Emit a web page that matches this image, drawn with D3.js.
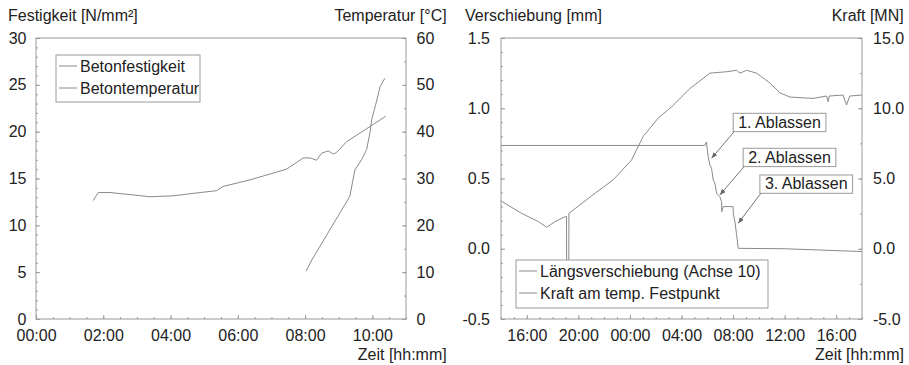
<!DOCTYPE html>
<html>
<head>
<meta charset="utf-8">
<script src="https://cdn.jsdelivr.net/npm/d3@7"></script>
<style>
  body { margin: 0; background: #fff; }
  svg { display: block; font-family: "Liberation Sans", Arial, sans-serif; }
</style>
</head>
<body>
<div id="chart"></div>
<script>
// Linkes Diagramm: Festigkeit / Temperatur (Zeit in Stunden)
const tempTime  = [1.70, 1.85, 2.20, 2.89, 3.39, 4.08, 4.88, 5.37, 5.56, 6.36, 7.45, 7.95, 8.15, 8.34, 8.49, 8.69, 8.84, 8.94, 9.24, 9.63, 10.23, 10.40];
const tempValue = [25.3, 27.0, 27.0, 26.5, 26.1, 26.3, 27.0, 27.4, 28.3, 29.7, 32.0, 34.4, 34.4, 33.9, 35.4, 35.9, 35.2, 35.6, 37.9, 39.7, 42.5, 43.3];
const strengthTime  = [8.03, 8.20, 9.33, 9.48, 9.68, 9.83, 9.93, 9.98, 10.10, 10.23, 10.37];
const strengthValue = [5.1, 6.3, 13.1, 15.9, 17.0, 18.1, 19.9, 21.3, 22.9, 24.8, 25.7];
const leftLegend = ['Betonfestigkeit', 'Betontemperatur'];
const leftTimeTicks = [0, 2, 4, 6, 8, 10];
const strengthTicks = [0, 5, 10, 15, 20, 25, 30];
const tempTicks = [0, 10, 20, 30, 40, 50, 60];

// Rechtes Diagramm: Verschiebung / Kraft (Stunden ab Tag 1, 00:00)
const shiftTime  = [14.0, 15.6, 16.9, 17.54, 18.19, 18.96, 19.08, 19.10, 19.25, 19.27, 21.29, 22.7, 24.13, 25.03, 26.19, 27.23, 28.65, 30.2, 31.5, 32.27, 32.53, 33.05, 33.82, 34.85, 35.63, 36.4, 38.2, 39.25, 39.37, 39.46, 40.53, 40.8, 41.05, 42.0];
const shiftValue = [0.34, 0.252, 0.193, 0.153, 0.193, 0.228, 0.228, -0.35, -0.35, 0.252, 0.395, 0.49, 0.632, 0.80, 0.93, 1.01, 1.14, 1.25, 1.26, 1.27, 1.25, 1.27, 1.25, 1.18, 1.11, 1.08, 1.07, 1.087, 1.047, 1.087, 1.094, 1.023, 1.087, 1.094];
const forceTime  = [14.0, 29.81, 29.93, 30.07, 30.20, 30.33, 30.46, 30.59, 30.72, 30.98, 31.11, 31.12, 31.23, 32.0, 32.02, 32.14, 32.26, 32.4, 36.0, 42.0];
const forceValue = [7.35, 7.35, 7.6, 6.55, 5.96, 5.73, 4.89, 4.66, 3.95, 3.7, 3.35, 2.64, 3.0, 3.0, 2.5, 1.93, 1.1, 0.03, 0.0, -0.2];
const rightLegend = ['Längsverschiebung (Achse 10)', 'Kraft am temp. Festpunkt'];
const rightTimeTicks = [16, 20, 24, 28, 32, 36, 40];
const shiftTicks = [-0.5, 0, 0.5, 1.0, 1.5];
const forceTicks = [-5, 0, 5, 10, 15];

// Anmerkungen (Pfeilspitze und Kastenecke in Datenwerten: Zeit / mm)
const annoLabels = ['1. Ablassen', '2. Ablassen', '3. Ablassen'];
const annoTipTime = [30.33, 30.98, 32.4];
const annoTipValue = [0.644, 0.383, 0.181];
const annoBoxTime = [32.01, 32.78, 34.08];
const annoBoxValue = [0.964, 0.715, 0.525];

const lineColor = '#8a8a8a';
const frameColor = '#9a9a9a';
const textColor = '#222';

const svg = d3.select('#chart').append('svg')
    .attr('width', 909)
    .attr('height', 365);

svg.append('defs').append('marker')
    .attr('id', 'arrow')
    .attr('viewBox', '0 0 10 10')
    .attr('refX', 10)
    .attr('refY', 5)
    .attr('markerWidth', 6)
    .attr('markerHeight', 6)
    .attr('orient', 'auto')
    .append('path')
    .attr('d', 'M0,1L10,5L0,9Z')
    .attr('fill', '#666');

const hhmm = h => String(h % 24).padStart(2, '0') + ':00';

function drawAxis(axis, transform) {
    const g = svg.append('g')
        .attr('transform', transform)
        .call(axis)
        .attr('font-family', null)
        .attr('font-size', 16);
    g.select('.domain').remove();
    g.selectAll('line').attr('stroke', frameColor);
    g.selectAll('text').attr('fill', textColor);
    return g;
}

function label(x, y, txt, anchor) {
    svg.append('text')
        .attr('x', x)
        .attr('y', y)
        .attr('text-anchor', anchor)
        .attr('font-size', 16)
        .attr('fill', textColor)
        .text(txt);
}

function legend(x, y, w, h, labels) {
    svg.append('rect')
        .attr('x', x).attr('y', y)
        .attr('width', w).attr('height', h)
        .attr('fill', '#fff')
        .attr('stroke', frameColor);
    labels.forEach((t, i) => {
        const cy = y + 11 + i * 22;
        svg.append('line')
            .attr('x1', x + 3).attr('x2', x + 21)
            .attr('y1', cy).attr('y2', cy)
            .attr('stroke', lineColor);
        svg.append('text')
            .attr('x', x + 24)
            .attr('y', cy + 6)
            .attr('font-size', 16)
            .attr('fill', textColor)
            .text(t);
    });
}

// ---------- Linkes Diagramm ----------
const L = {x0: 36, x1: 406, y0: 38, y1: 319};
const xL = d3.scaleLinear().domain([0, 11]).range([L.x0, L.x1]);
const yS = d3.scaleLinear().domain([0, 30]).range([L.y1, L.y0]);
const yT = d3.scaleLinear().domain([0, 60]).range([L.y1, L.y0]);

svg.append('rect')
    .attr('x', L.x0).attr('y', L.y0)
    .attr('width', L.x1 - L.x0).attr('height', L.y1 - L.y0)
    .attr('fill', 'none').attr('stroke', frameColor);

drawAxis(d3.axisBottom(xL).tickValues(d3.range(0, 11.01, 0.5)).tickSize(-2).tickFormat(''), `translate(0,${L.y1})`);
drawAxis(d3.axisBottom(xL).tickValues(leftTimeTicks).tickSize(-4).tickPadding(11).tickFormat(hhmm), `translate(0,${L.y1})`);
drawAxis(d3.axisLeft(yS).tickValues(d3.range(0, 31, 1)).tickSize(-2).tickFormat(''), `translate(${L.x0},0)`);
drawAxis(d3.axisLeft(yS).tickValues(strengthTicks).tickSize(-4).tickPadding(9.5), `translate(${L.x0},0)`);
drawAxis(d3.axisRight(yT).tickValues(d3.range(0, 61, 5)).tickSize(-2).tickFormat(''), `translate(${L.x1},0)`);
drawAxis(d3.axisRight(yT).tickValues(tempTicks).tickSize(-4).tickPadding(10.5), `translate(${L.x1},0)`);

svg.append('path')
    .datum(d3.zip(tempTime, tempValue))
    .attr('fill', 'none')
    .attr('stroke', lineColor)
    .attr('d', d3.line().x(d => xL(d[0])).y(d => yT(d[1])));

svg.append('path')
    .datum(d3.zip(strengthTime, strengthValue))
    .attr('fill', 'none')
    .attr('stroke', lineColor)
    .attr('d', d3.line().x(d => xL(d[0])).y(d => yS(d[1])));

legend(56, 55, 144, 47, leftLegend);

label(8, 20.5, 'Festigkeit [N/mm²]', 'start');
label(446.7, 20.5, 'Temperatur [°C]', 'end');
label(446.7, 360, 'Zeit [hh:mm]', 'end');

// ---------- Rechtes Diagramm ----------
const R = {x0: 501, x1: 862, y0: 38, y1: 319};
const xR = d3.scaleLinear().domain([14, 42]).range([R.x0, R.x1]);
const yV = d3.scaleLinear().domain([-0.5, 1.5]).range([R.y1, R.y0]);
const yF = d3.scaleLinear().domain([-5, 15]).range([R.y1, R.y0]);

svg.append('rect')
    .attr('x', R.x0).attr('y', R.y0)
    .attr('width', R.x1 - R.x0).attr('height', R.y1 - R.y0)
    .attr('fill', 'none').attr('stroke', frameColor);

drawAxis(d3.axisBottom(xR).tickValues(d3.range(14, 42.01, 1)).tickSize(-2).tickFormat(''), `translate(0,${R.y1})`);
drawAxis(d3.axisBottom(xR).tickValues(rightTimeTicks).tickSize(-4).tickPadding(11).tickFormat(hhmm), `translate(0,${R.y1})`);
drawAxis(d3.axisLeft(yV).tickValues(d3.range(-5, 16, 1).map(v => v / 10)).tickSize(-2).tickFormat(''), `translate(${R.x0},0)`);
drawAxis(d3.axisLeft(yV).tickValues(shiftTicks).tickSize(-4).tickPadding(11).tickFormat(d => d.toFixed(1)), `translate(${R.x0},0)`);
drawAxis(d3.axisRight(yF).tickValues(d3.range(-5, 15.01, 2.5)).tickSize(-2).tickFormat(''), `translate(${R.x1},0)`);
drawAxis(d3.axisRight(yF).tickValues(forceTicks).tickSize(-4).tickPadding(11).tickFormat(d => d.toFixed(1)), `translate(${R.x1},0)`);

svg.append('path')
    .datum(d3.zip(shiftTime, shiftValue))
    .attr('fill', 'none')
    .attr('stroke', lineColor)
    .attr('d', d3.line().x(d => xR(d[0])).y(d => yV(d[1])));

svg.append('path')
    .datum(d3.zip(forceTime, forceValue))
    .attr('fill', 'none')
    .attr('stroke', lineColor)
    .attr('d', d3.line().x(d => xR(d[0])).y(d => yF(d[1])));

// Anmerkungen mit Pfeilen
annoLabels.forEach((t, i) => {
    const bx = xR(annoBoxTime[i]);
    const by = yV(annoBoxValue[i]);
    const g = svg.append('g');
    const box = g.append('rect')
        .attr('x', bx).attr('y', by)
        .attr('height', 18.3)
        .attr('fill', '#fff')
        .attr('stroke', frameColor);
    const txt = g.append('text')
        .attr('x', bx + 5)
        .attr('y', by + 14.5)
        .attr('font-size', 16)
        .attr('fill', textColor)
        .text(t);
    box.attr('width', txt.node().getComputedTextLength() + 10);
    g.append('line')
        .attr('x1', bx + 1).attr('y1', by + 18.3)
        .attr('x2', xR(annoTipTime[i])).attr('y2', yV(annoTipValue[i]))
        .attr('stroke', '#777')
        .attr('marker-end', 'url(#arrow)');
});

legend(516, 260, 252, 48, rightLegend);

label(465, 20.5, 'Verschiebung [mm]', 'start');
label(831.7, 20.5, 'Kraft [MN]', 'start');
label(815, 360, 'Zeit [hh:mm]', 'start');
</script>
</body>
</html>
